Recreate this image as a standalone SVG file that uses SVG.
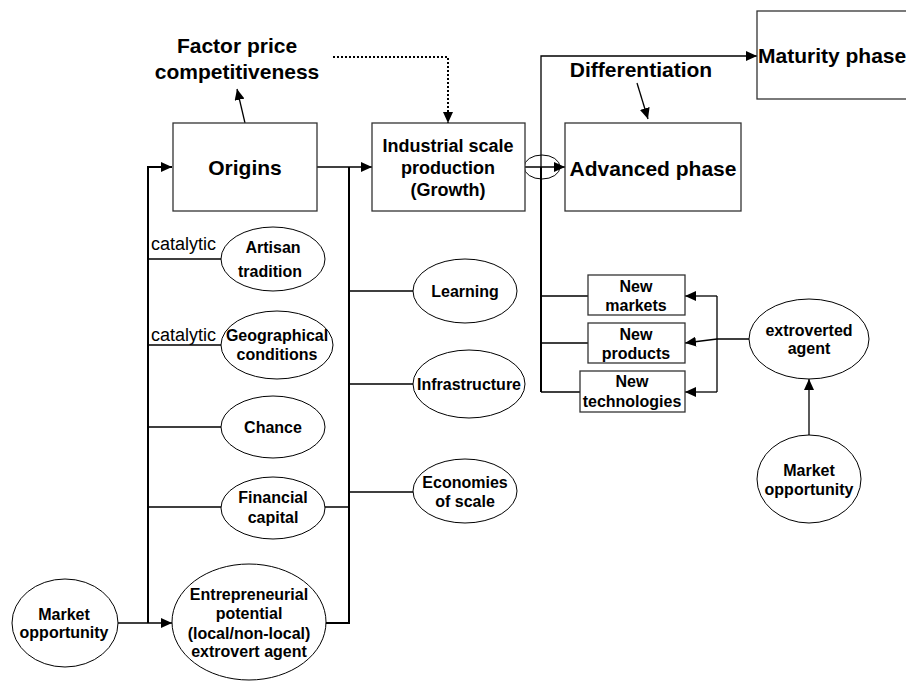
<svg xmlns="http://www.w3.org/2000/svg" width="906" height="681" viewBox="0 0 906 681">
<style>
.box{fill:#fff;stroke:#333;stroke-width:1.3}
.ell{fill:#fff;stroke:#000;stroke-width:1}
.ln{fill:none;stroke:#000;stroke-width:1.3}
.tk{fill:none;stroke:#000;stroke-width:2}
.t{font-family:"Liberation Sans",Arial,sans-serif;font-weight:bold;fill:#000;text-anchor:middle}
.big{font-size:21px}
.mid{font-size:18px}
.sm{font-size:16px}
.cat{font-family:"Liberation Sans",Arial,sans-serif;font-size:18px;fill:#000}
</style>
<defs>
<marker id="ah" markerUnits="userSpaceOnUse" markerWidth="12" markerHeight="10" refX="11" refY="5" orient="auto">
<path d="M0,0 L11,5 L0,10 z" fill="#000"/>
</marker>
</defs>
<rect x="0" y="0" width="906" height="681" fill="#fff"/>
<g id="connectors">
<line class="ln" x1="245" y1="123" x2="237" y2="89" marker-end="url(#ah)"/>
<path d="M333,57 H448 V123" fill="none" stroke="#000" stroke-width="2" stroke-dasharray="2,2" marker-end="url(#ah)"/>
<path class="ln" d="M317,167 H372" marker-end="url(#ah)"/>
<path class="tk" d="M148,623 V167 H172" marker-end="url(#ah)"/>
<path class="ln" d="M117,623 H172" marker-end="url(#ah)"/>
<path class="tk" d="M349,167 V623 H325"/>
<path class="ln" d="M148,259 H221 M148,345 H221 M148,427 H221 M148,507 H221 M325,507 H349"/>
<path class="ln" d="M349,291 H413 M349,384 H413 M349,492 H413"/>
<path class="ln" d="M525,167 H565" marker-end="url(#ah)"/>
<ellipse cx="542" cy="167" rx="18" ry="12" fill="none" stroke="#000" stroke-width="1"/>
<path class="tk" d="M541,392 V167"/>
<path class="ln" d="M541,167 V56 H757" marker-end="url(#ah)"/>
<path class="ln" d="M541,296 H588 M541,343 H588 M541,392 H580"/>
<line class="ln" x1="637" y1="83" x2="648" y2="119" marker-end="url(#ah)"/>
<path class="ln" d="M749,339 H717 L685,343" marker-end="url(#ah)"/>
<path class="ln" d="M717,296 V392"/>
<path class="ln" d="M717,296 H685" marker-end="url(#ah)"/>
<path class="ln" d="M717,392 H685" marker-end="url(#ah)"/>
<path class="ln" d="M809,435 V379" marker-end="url(#ah)"/>
</g>
<g id="factor">
<text class="t big" x="237" y="53">Factor price</text>
<text class="t big" x="237" y="79">competitiveness</text>
</g>
<g id="differentiation">
<text class="t big" x="641" y="77">Differentiation</text>
</g>
<g id="origins">
<rect class="box" x="173" y="123" width="144" height="88"/>
<text class="t big" x="245" y="175">Origins</text>
</g>
<g id="industrial">
<rect class="box" x="372" y="123" width="153" height="88"/>
<text class="t mid" x="448" y="152">Industrial scale</text>
<text class="t mid" x="448" y="174">production</text>
<text class="t mid" x="448" y="196">(Growth)</text>
</g>
<g id="advanced">
<rect class="box" x="565" y="123" width="176" height="88"/>
<text class="t big" x="653" y="176">Advanced phase</text>
</g>
<g id="maturity">
<rect class="box" x="757" y="11" width="160" height="88"/>
<text class="t big" x="758" y="63" style="text-anchor:start">Maturity phase</text>
</g>
<g id="artisan">
<ellipse class="ell" cx="273" cy="259" rx="52" ry="32"/>
<text class="cat" x="151" y="250">catalytic</text>
<text class="t sm" x="273" y="253">Artisan</text>
<text class="t sm" x="270" y="277">tradition</text>
</g>
<g id="geographical">
<ellipse class="ell" cx="277" cy="345" rx="56" ry="34"/>
<text class="cat" x="151" y="341">catalytic</text>
<text class="t sm" x="277" y="341">Geographical</text>
<text class="t sm" x="277" y="360">conditions</text>
</g>
<g id="chance">
<ellipse class="ell" cx="273" cy="427" rx="52" ry="31"/>
<text class="t sm" x="273" y="433">Chance</text>
</g>
<g id="financial">
<ellipse class="ell" cx="273" cy="508" rx="52" ry="31"/>
<text class="t sm" x="273" y="503">Financial</text>
<text class="t sm" x="273" y="523">capital</text>
</g>
<g id="entrepreneurial">
<ellipse class="ell" cx="249" cy="622" rx="77" ry="58"/>
<text class="t sm" x="249" y="600">Entrepreneurial</text>
<text class="t sm" x="249" y="619">potential</text>
<text class="t sm" x="249" y="639">(local/non-local)</text>
<text class="t sm" x="249" y="657">extrovert agent</text>
</g>
<g id="market-left">
<ellipse class="ell" cx="65" cy="623" rx="53" ry="44"/>
<text class="t sm" x="64" y="620">Market</text>
<text class="t sm" x="64" y="638">opportunity</text>
</g>
<g id="learning">
<ellipse class="ell" cx="465" cy="291" rx="52" ry="32"/>
<text class="t sm" x="465" y="297">Learning</text>
</g>
<g id="infrastructure">
<ellipse class="ell" cx="469" cy="384" rx="56" ry="34"/>
<text class="t sm" x="469" y="390">Infrastructure</text>
</g>
<g id="economies">
<ellipse class="ell" cx="465" cy="491" rx="52" ry="32"/>
<text class="t sm" x="465" y="488">Economies</text>
<text class="t sm" x="465" y="507">of scale</text>
</g>
<g id="new-markets">
<rect class="box" x="588" y="275" width="97" height="40"/>
<text class="t sm" x="636" y="292">New</text>
<text class="t sm" x="636" y="311">markets</text>
</g>
<g id="new-products">
<rect class="box" x="588" y="323" width="97" height="40"/>
<text class="t sm" x="636" y="340">New</text>
<text class="t sm" x="636" y="359">products</text>
</g>
<g id="new-technologies">
<rect class="box" x="580" y="371" width="105" height="41"/>
<text class="t sm" x="632" y="387">New</text>
<text class="t sm" x="632" y="407">technologies</text>
</g>
<g id="extroverted">
<ellipse class="ell" cx="809" cy="339" rx="60" ry="40"/>
<text class="t sm" x="809" y="336">extroverted</text>
<text class="t sm" x="809" y="354">agent</text>
</g>
<g id="market-right">
<ellipse class="ell" cx="809" cy="479" rx="52" ry="44"/>
<text class="t sm" x="809" y="476">Market</text>
<text class="t sm" x="809" y="495">opportunity</text>
</g>
</svg>
